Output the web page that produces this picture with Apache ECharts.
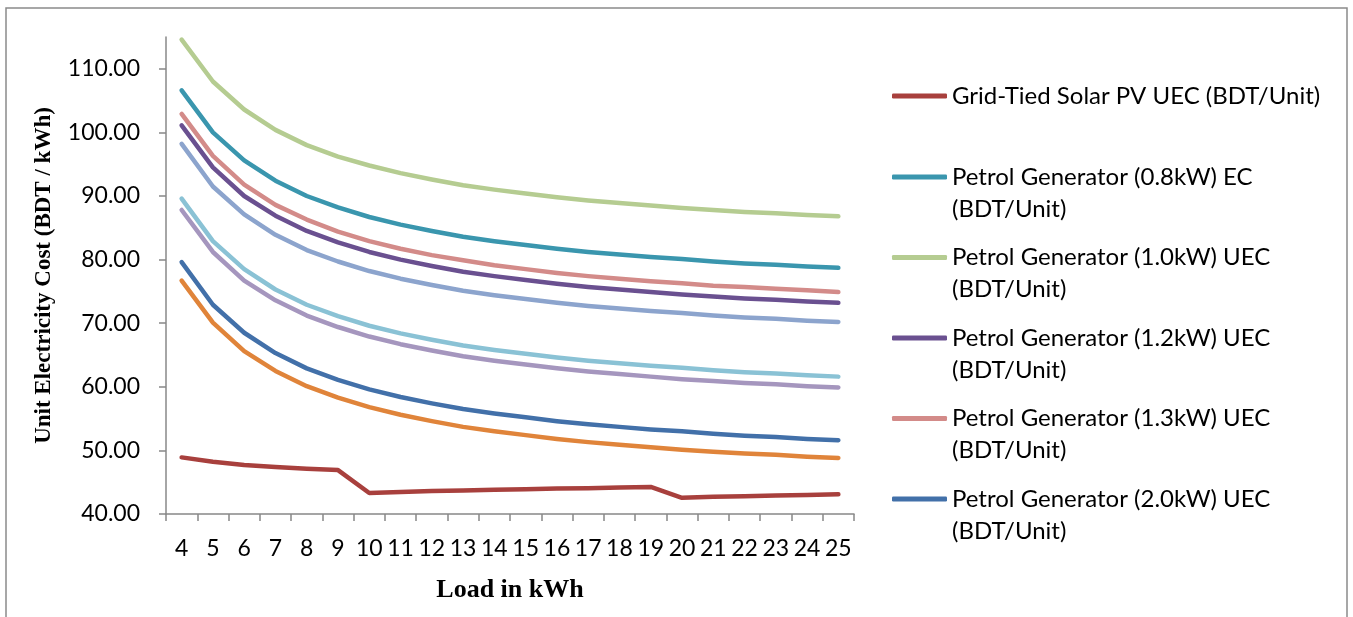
<!DOCTYPE html>
<html>
<head>
<meta charset="utf-8">
<script src="https://cdn.jsdelivr.net/npm/echarts@6/dist/echarts.min.js"></script>
<style>
html,body{margin:0;padding:0;background:#fff;}
#chart{width:1353px;height:617px;}
</style>
</head>
<body>
<div id="chart"></div>
<script>
// ---- data ----
const categories = ['4','5','6','7','8','9','10','11','12','13','14','15','16','17','18','19','20','21','22','23','24','25'];
const yTickValues = [40, 50, 60, 70, 80, 90, 100, 110];

const solarPV   = [48.9, 48.2, 47.7, 47.4, 47.1, 46.9, 43.3, 43.45, 43.6, 43.7, 43.8, 43.9, 44.0, 44.05, 44.15, 44.25, 42.55, 42.7, 42.8, 42.9, 43.0, 43.1];
const gen08     = [106.6, 100.0, 95.6, 92.4, 90.0, 88.2, 86.7, 85.5, 84.5, 83.6, 82.9, 82.3, 81.7, 81.2, 80.8, 80.4, 80.1, 79.7, 79.4, 79.2, 78.9, 78.7];
const gen10     = [114.6, 108.0, 103.6, 100.4, 98.0, 96.2, 94.8, 93.6, 92.6, 91.7, 91.0, 90.4, 89.8, 89.3, 88.9, 88.5, 88.1, 87.8, 87.5, 87.3, 87.0, 86.8];
const gen12     = [101.1, 94.5, 90.0, 86.9, 84.5, 82.7, 81.2, 80.0, 79.0, 78.1, 77.4, 76.8, 76.2, 75.7, 75.3, 74.9, 74.5, 74.2, 73.9, 73.7, 73.4, 73.2];
const gen13     = [102.9, 96.3, 91.8, 88.6, 86.3, 84.4, 82.9, 81.7, 80.7, 79.9, 79.1, 78.5, 77.9, 77.4, 77.0, 76.6, 76.3, 75.9, 75.7, 75.4, 75.2, 74.9];
const gen20     = [79.6, 72.9, 68.5, 65.3, 62.9, 61.1, 59.6, 58.4, 57.4, 56.5, 55.8, 55.2, 54.6, 54.1, 53.7, 53.3, 53.0, 52.6, 52.3, 52.1, 51.8, 51.6];
const series7   = [76.7, 70.1, 65.6, 62.5, 60.1, 58.3, 56.8, 55.6, 54.6, 53.7, 53.0, 52.4, 51.8, 51.3, 50.9, 50.5, 50.1, 49.8, 49.5, 49.3, 49.0, 48.8];
const series8   = [98.2, 91.5, 87.1, 83.9, 81.5, 79.7, 78.2, 77.0, 76.0, 75.1, 74.4, 73.8, 73.2, 72.7, 72.3, 71.9, 71.6, 71.2, 70.9, 70.7, 70.4, 70.2];
const series9   = [87.8, 81.2, 76.7, 73.6, 71.2, 69.4, 67.9, 66.7, 65.7, 64.8, 64.1, 63.5, 62.9, 62.4, 62.0, 61.6, 61.2, 60.9, 60.6, 60.4, 60.1, 59.9];
const series10  = [89.6, 82.9, 78.5, 75.3, 72.9, 71.1, 69.6, 68.4, 67.4, 66.5, 65.8, 65.2, 64.6, 64.1, 63.7, 63.3, 63.0, 62.6, 62.3, 62.1, 61.8, 61.6];

const legendLines = [
  ['Grid-Tied Solar PV UEC (BDT/Unit)'],
  ['Petrol Generator (0.8kW) EC', '(BDT/Unit)'],
  ['Petrol Generator (1.0kW) UEC', '(BDT/Unit)'],
  ['Petrol Generator (1.2kW) UEC', '(BDT/Unit)'],
  ['Petrol Generator (1.3kW) UEC', '(BDT/Unit)'],
  ['Petrol Generator (2.0kW) UEC', '(BDT/Unit)']
];
const shownNames = legendLines.map(l => l.join(' '));
const extraNames = ['Series 7', 'Series 8', 'Series 9', 'Series 10'];

const seriesData = [solarPV, gen08, gen10, gen12, gen13, gen20, series7, series8, series9, series10];
const seriesNames = shownNames.concat(extraNames);
const seriesColors = ['#A8403D', '#3A96AE', '#B5CC91', '#6A5090', '#D38B89', '#4270A9', '#E0843A', '#8CA4CD', '#A596BE', '#8AC2D5'];

// ---- chart ----
const chart = echarts.init(document.getElementById('chart'), null, {renderer: 'canvas'});

const legendCenters = [96, 177, 257.5, 338, 418.5, 499];
const legends = legendLines.map((lines, i) => {
  const multi = lines.length > 1;
  return {
    data: [shownNames[i]],
    orient: 'vertical',
    left: 892,
    top: multi ? legendCenters[i] - 48 : legendCenters[i] - 16,
    padding: 0,
    itemWidth: 55,
    itemHeight: 5,
    icon: 'roundRect',
    selectedMode: false,
    formatter: function () {
      return multi ? '\n' + lines.join('\n') : lines[0];
    },
    textStyle: {
      fontFamily: 'Lato',
      fontSize: 24,
      lineHeight: 32,
      color: '#000'
    }
  };
});

const option = {
  backgroundColor: '#fff',
  animation: false,
  graphic: [{
    type: 'rect',
    shape: {x: 6, y: 8, width: 1341, height: 640},
    style: {fill: 'none', stroke: '#8a8a8a', lineWidth: 1.5},
    silent: true
  }],
  legend: legends,
  grid: {left: 166, right: 499, top: 37, bottom: 103, containLabel: false},
  xAxis: {
    type: 'category',
    data: categories,
    boundaryGap: true,
    name: 'Load in kWh',
    nameLocation: 'middle',
    nameGap: 63,
    nameTextStyle: {fontFamily: 'Liberation Serif', fontWeight: 'bold', fontSize: 26, color: '#000'},
    axisLine: {lineStyle: {color: '#888', width: 1.5}},
    axisTick: {show: true, alignWithLabel: false, length: 7, lineStyle: {color: '#888', width: 1.5}},
    axisLabel: {fontFamily: 'Lato', fontSize: 23, color: '#000', margin: 23, interval: 0},
    splitLine: {show: false}
  },
  yAxis: {
    type: 'value',
    min: 40,
    max: 115,
    interval: 10,
    name: 'Unit Electricity Cost (BDT / kWh)',
    nameLocation: 'middle',
    nameGap: 110,
    nameTextStyle: {fontFamily: 'Liberation Serif', fontWeight: 'bold', fontSize: 23, color: '#000'},
    axisLine: {show: true, lineStyle: {color: '#888', width: 1.5}},
    axisTick: {show: true, length: 7, customValues: yTickValues, lineStyle: {color: '#888', width: 1.5}},
    axisLabel: {
      fontFamily: 'Lato', fontSize: 23, color: '#000', margin: 26,
      customValues: yTickValues,
      formatter: v => v.toFixed(2)
    },
    splitLine: {show: false}
  },
  series: seriesData.map((d, i) => ({
    type: 'line',
    name: seriesNames[i],
    data: d,
    symbol: 'none',
    showSymbol: false,
    smooth: false,
    color: seriesColors[i],
    lineStyle: {width: 4.5, color: seriesColors[i], cap: 'round', join: 'round'}
  }))
};

chart.setOption(option);
</script>
</body>
</html>
